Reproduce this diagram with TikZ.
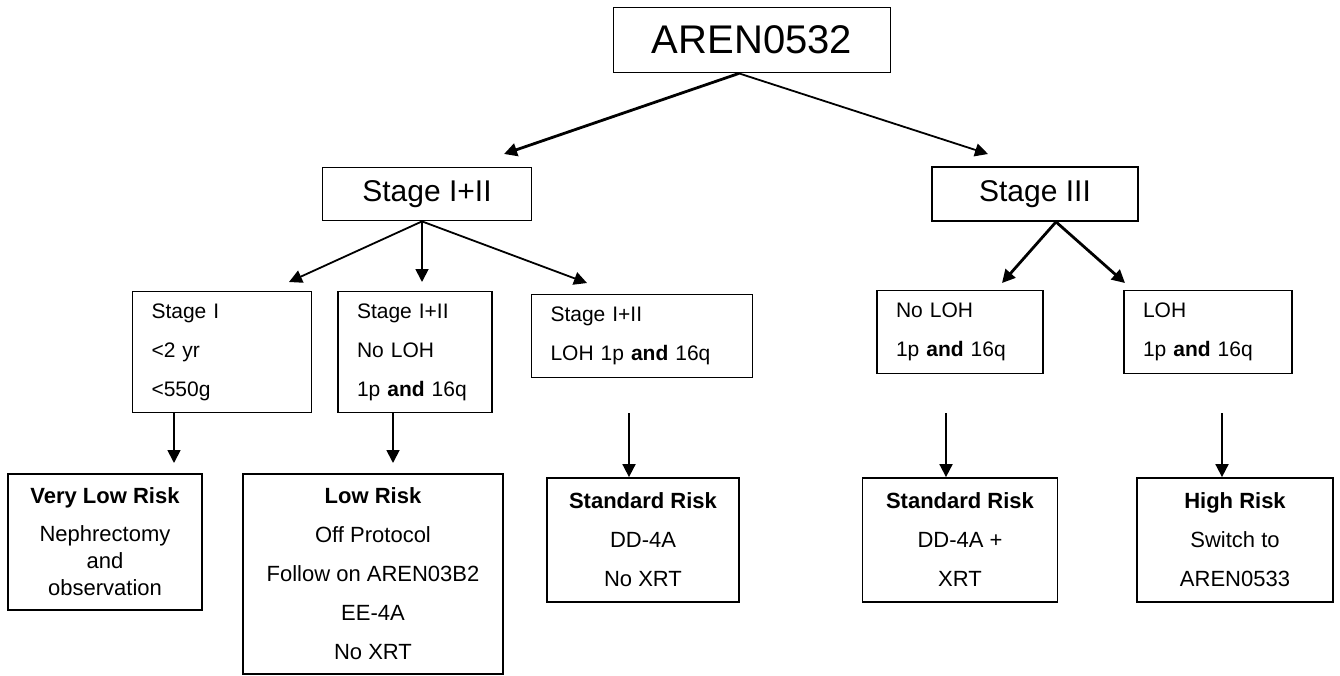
\documentclass[tikz,border=0pt]{standalone}
\usepackage{fontspec}
\setmainfont{Liberation Sans}
\usetikzlibrary{arrows.meta}
\tikzset{
  box/.style={draw, line width=1.8pt, inner sep=0pt, align=center},
  lbox/.style={box, align=left, text width=#1},
  arr/.style={line width=1.8pt, -{Triangle[length=13pt,width=13pt]}},
  heavyarr/.style={arr, line width=2.8pt},
  toptext/.style={font=\fontsize{40}{48}\selectfont},
  stagetext/.style={font=\fontsize{30}{36}\selectfont},
  crittext/.style={font=\fontsize{21}{39}\selectfont},
  risktext/.style={font=\fontsize{22}{39}\selectfont},
}
\begin{document}
\begin{tikzpicture}[x=1pt,y=-1pt]
\useasboundingbox (0,0) rectangle (1340,675);

% top and stages
\node[box,toptext,minimum width=277pt,minimum height=65pt] (aren) at (752,40) {AREN0532};
\node[box,stagetext,minimum width=209pt,minimum height=53pt] (st12) at (427,194) {Stage I+II};
\node[box,stagetext,minimum width=206pt,minimum height=54pt] (st3) at (1035,194) {Stage III};

\coordinate (t12) at (504,154);
\coordinate (t3) at (988,154);
\draw[heavyarr] ([xshift=-13pt]aren.south) -- (t12);
\draw[arr] ([xshift=-13pt]aren.south) -- (t3);

% criteria row
\node[lbox=141pt,crittext,minimum width=179pt,minimum height=121pt] (crA) at (222,352) {Stage I\\<2 yr\\<550g};
\node[lbox=116pt,crittext,minimum width=154pt,minimum height=121pt] (crB) at (415,352) {Stage I+II\\No LOH\\1p \textbf{and} 16q};
\node[lbox=183pt,crittext,minimum width=221pt,minimum height=83pt] (crC) at (642,336) {Stage I+II\\LOH 1p \textbf{and} 16q};
\node[lbox=128pt,crittext,minimum width=166pt,minimum height=83pt] (crD) at (960,332) {No LOH\\1p \textbf{and} 16q};
\node[lbox=130pt,crittext,minimum width=168pt,minimum height=83pt] (crE) at (1208,332) {LOH\\1p \textbf{and} 16q};

\coordinate (tA) at (289,282);
\coordinate (tB) at (422,282);
\coordinate (tC) at (587,283);
\draw[arr] ([xshift=-5pt]st12.south) -- (tA);
\draw[arr] ([xshift=-5pt]st12.south) -- (tB);
\draw[arr] ([xshift=-5pt]st12.south) -- (tC);

\coordinate (tD) at (1002,283);
\coordinate (tE) at (1125,283);
\draw[heavyarr] ([xshift=21pt]st3.south) -- (tD);
\draw[heavyarr] ([xshift=21pt]st3.south) -- (tE);

% risk groups
\node[box,font=\fontsize{22}{27}\selectfont,minimum width=194pt,minimum height=136pt] (rkA) at (105,542)
  {\textbf{Very Low Risk}\\[11pt]Nephrectomy\\and\\observation};
\node[box,risktext,minimum width=260pt,minimum height=200pt] (rkB) at (373,574)
  {\textbf{Low Risk}\\Off Protocol\\Follow on AREN03B2\\EE-4A\\No XRT};
\node[box,risktext,minimum width=192pt,minimum height=124pt] (rkC) at (643,540)
  {\textbf{Standard Risk}\\DD-4A\\No XRT};
\node[box,risktext,minimum width=195pt,minimum height=124pt] (rkD) at (960,540)
  {\textbf{Standard Risk}\\DD-4A +\\XRT};
\node[box,risktext,minimum width=196pt,minimum height=124pt] (rkE) at (1235,540)
  {\textbf{High Risk}\\Switch to\\AREN0533};

\coordinate (dA) at (174,463);
\coordinate (dB) at (393,463);
\draw[arr] (dA |- crA.south) -- (dA);
\draw[arr] (dB |- crB.south) -- (dB);

\coordinate (sC) at (629,413);
\coordinate (sD) at (946,413);
\coordinate (sE) at (1222,413);
\draw[arr] (sC) -- (sC |- rkC.north);
\draw[arr] (sD) -- (sD |- rkD.north);
\draw[arr] (sE) -- (sE |- rkE.north);
\end{tikzpicture}
\end{document}
